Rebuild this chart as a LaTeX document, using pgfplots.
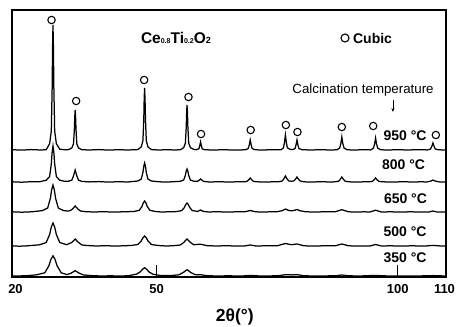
\documentclass[border=0pt]{standalone}
\usepackage{fontspec}
\setmainfont{Liberation Sans}
\usepackage{pgfplots}
\pgfplotsset{compat=1.18}
\usetikzlibrary{arrows.meta}
\begin{document}
\begin{tikzpicture}
\useasboundingbox (-12pt,-50pt) rectangle (447pt,277pt);
\begin{axis}[
  at={(0,0)}, anchor=south west,
  scale only axis, width=434pt, height=267pt,
  xmin=20, xmax=110, ymin=0, ymax=267,
  clip=false,
  axis line style={line width=1.5pt},
  xtick={20,50,100,110}, xticklabels={\hspace{7pt}20,50,100,\hspace{-3pt}110},
  xtick pos=lower, tick align=inside, major tick length=12pt,
  tick style={line width=1pt, black},
  ytick=\empty,
  xticklabel style={font=\bfseries\fontsize{13}{13}\selectfont, yshift=-4pt},
  every axis plot/.append style={line width=1.25pt, black},
]
% 950 C
\addplot[mark=none] coordinates {(20,127.3) (22,126.9) (24,127.4) (26,127.0) (27.10,127.3) (27.80,133.3) (28.15,145.8) (28.33,189.5) (28.41,229.5) (28.50,252) (28.59,229.5) (28.68,189.5) (28.85,145.8) (29.20,133.3) (29.90,127.8) (31.00,127.2) (31.70,127.4) (32.40,129) (32.75,133) (32.93,147) (33.01,159.8) (33.10,167) (33.19,159.8) (33.28,147) (33.45,133) (33.80,129) (34.50,127.3) (36,127.0) (38,127.4) (40,126.9) (42,127.3) (44,127.0) (46.10,127.4) (46.80,130.1) (47.15,136.3) (47.33,158) (47.41,177.8) (47.50,189) (47.59,177.8) (47.68,158) (47.85,136.3) (48.20,130.1) (48.90,127.4) (50.5,127.0) (52,127.3) (54,127.0) (55.00,127.4) (55.60,129.3) (55.95,133.8) (56.13,149.5) (56.21,163.9) (56.30,172) (56.39,163.9) (56.48,149.5) (56.65,133.8) (57.00,129.3) (57.7,127.6) (58.20,127.3) (58.75,128.2) (58.93,131) (59.10,135) (59.28,131) (59.45,128.2) (60.00,127.2) (62,127.0) (64,127.3) (66,126.9) (68.40,127.2) (69.00,128.5) (69.20,132) (69.40,137) (69.60,132) (69.80,128.5) (70.40,127.2) (72,127.0) (74,127.3) (75.80,127.2) (76.30,129.2) (76.50,134.5) (76.70,142) (76.90,134.5) (77.10,129.2) (77.70,127.6) (78.30,127.6) (78.70,128.5) (78.90,132) (79.10,137) (79.30,132) (79.50,128.5) (80.10,127.3) (82,127.0) (84,127.3) (86,127.0) (87.40,127.2) (87.95,129) (88.20,133.5) (88.40,140) (88.60,133.5) (88.85,129) (89.50,127.2) (91,127.0) (93,127.3) (94.40,127.1) (94.95,128.8) (95.20,133) (95.40,139) (95.60,133) (95.85,128.8) (96.50,127.2) (98,127.0) (100,127.3) (102,127.0) (104,127.3) (106.20,127.1) (106.80,128) (107.05,130.5) (107.30,134) (107.55,130.5) (107.80,128) (108.40,127.2) (110,127.0)};
% 800 C
\addplot[mark=none] coordinates {(20,95.2) (22,94.8) (24,95.3) (25.70,95.2) (27.10,96.8) (27.80,100.4) (28.15,113) (28.32,124.5) (28.50,131) (28.68,124.5) (28.85,113) (29.20,100.4) (29.90,96.8) (30.8,95.8) (31.70,95.8) (32.40,96.8) (32.75,101) (33.10,107) (33.45,101) (33.80,96.8) (34.50,95.6) (36,95.1) (38,95.4) (40,94.9) (42,95.3) (44,95.0) (46.10,96) (46.80,97.9) (47.15,104.5) (47.32,110.6) (47.50,114) (47.68,110.6) (47.85,104.5) (48.20,97.9) (48.90,96) (50.5,95.2) (52,94.9) (53.5,95.3) (54.90,95.7) (55.60,97) (55.95,101.5) (56.12,105.7) (56.30,108) (56.48,105.7) (56.65,101.5) (57.00,97) (57.70,95.8) (58.40,95.6) (58.75,96.5) (59.10,98) (59.45,96.5) (59.80,95.5) (61,95.0) (63,95.3) (65,94.9) (66.5,95.2) (68.30,95.2) (68.70,95.6) (69.05,97) (69.40,99) (69.75,97) (70.10,95.6) (70.80,95.2) (72.5,94.9) (74,95.2) (75.30,95.3) (76.00,95.9) (76.35,98) (76.70,101) (77.05,98) (77.40,96) (78.00,95.8) (78.40,96) (78.75,97.5) (79.10,100) (79.45,97.5) (79.80,96) (80.50,95.2) (82,94.9) (84,95.3) (86,95.0) (87.00,95.2) (87.70,95.8) (88.05,97.5) (88.40,100) (88.75,97.5) (89.10,95.8) (89.80,95.2) (91.5,94.9) (93,95.2) (94.00,95.2) (94.70,95.6) (95.05,97) (95.40,99) (95.75,97) (96.10,95.6) (96.80,95.2) (99,94.9) (101,95.3) (103,95.0) (105,95.2) (106.0,95.0) (106.9,96) (107.3,97) (107.7,96) (108.6,95.1) (110,95.0)};
% 650 C
\addplot[mark=none] coordinates {(20,65.2) (22,64.8) (24.10,65.2) (26.30,66.4) (27.40,69) (27.95,78.5) (28.22,87.1) (28.50,92) (28.78,87.1) (29.05,78.5) (29.60,69) (30.70,66.4) (31.50,66) (32.00,66.2) (32.55,68) (33.10,71) (33.65,68) (34.20,66) (35.3,65.3) (37,65.0) (39,65.3) (41,64.9) (43,65.2) (45.30,65.5) (46.40,66.7) (46.95,70.5) (47.22,74) (47.50,76) (47.78,74) (48.05,70.5) (48.60,66.7) (49.70,65.5) (51,65.0) (52.5,65.2) (54.10,65.4) (55.20,66.4) (55.75,69.5) (56.02,72.4) (56.30,74) (56.58,72.4) (56.85,69.5) (57.40,66.4) (58.50,65.6) (59.10,67) (59.70,65.6) (60.8,65.0) (62.5,65.3) (64.5,64.9) (66.5,65.2) (68.3,65.2) (69.4,66.5) (70.5,65.2) (72,64.9) (73.5,65.2) (75.0,65.3) (76.0,66.3) (76.7,68) (77.4,66.5) (78.0,66.2) (78.5,66.6) (79.1,67.5) (79.7,66.3) (80.8,65.3) (82.5,64.9) (84.5,65.2) (87.0,65.2) (88.4,67.3) (89.8,65.2) (91.5,64.9) (93,65.2) (94.2,65.0) (95.4,66.8) (96.6,65.0) (98.5,65.2) (100.5,64.9) (102.5,65.2) (104.5,65.0) (106.5,65.0) (107.3,66) (108.1,65.0) (110,65.1)};
% 500 C
\addplot[mark=none] coordinates {(20,31.2) (21.5,30.8) (23.0,31.1) (25.70,32.2) (27.10,34.5) (27.80,42.5) (28.15,49.9) (28.50,54) (28.85,49.9) (29.20,42.5) (29.90,34.5) (31.30,32.3) (32.40,34.5) (33.10,38) (33.80,34.5) (34.50,32) (35.90,31.4) (37.5,31.0) (39.5,31.3) (41.5,30.9) (43,31.2) (44.7,31.5) (46.1,32.5) (46.8,36) (47.15,39.2) (47.5,41) (47.85,39.2) (48.2,36) (48.9,32.5) (50.3,31.5) (52,31.0) (53.5,31.3) (54.9,32) (55.6,34.5) (56.3,38) (57.0,34.5) (57.7,32.3) (59.1,32.8) (60.5,31.3) (62.5,31.0) (64.5,31.3) (66.5,30.9) (68.2,31.0) (69.4,32) (70.6,31.0) (72.5,31.2) (75.0,31.2) (76.7,33.5) (77.9,32.3) (79.1,33) (80.6,31.2) (82.5,30.9) (84.5,31.2) (87,31.2) (88.4,33) (89.8,31.2) (92,30.9) (94.2,31.0) (95.4,32.5) (96.6,31.0) (98.5,31.2) (100.5,30.9) (103,31.2) (105.5,30.9) (107.3,31.6) (109,31.0) (110,31.1)};
% 350 C
\addplot[mark=none] coordinates {(20,1.0) (23.0,1.2) (25.1,2.2) (26.8,4.2) (27.65,11.2) (28.07,17.6) (28.5,21.2) (28.93,17.6) (29.35,11.2) (30.2,4.2) (31.4,2.4) (32.25,3.8) (33.1,6.3) (33.95,3.8) (34.8,2.1) (36.5,1.4) (38.5,1.0) (40.5,1.2) (42.5,0.9) (44.1,1.3) (45.8,2.8) (46.65,5.3) (47.07,7.8) (47.5,9.3) (47.93,7.8) (48.35,5.3) (49.2,2.8) (50.9,1.4) (52.9,1.4) (54.6,2.2) (55.45,4.3) (56.3,7.3) (57.15,4.3) (58.0,2.3) (59.1,2.3) (60.5,1.3) (62.5,1.0) (65,1.2) (67.5,0.9) (69.4,1.6) (71.5,1.0) (73.5,1.1) (75.0,1.2) (76.7,2.3) (78,2.1) (79.1,2.4) (80.6,1.2) (83,1.0) (85,1.1) (87,1.2) (88.4,2.0) (89.8,1.2) (92,1.0) (95.4,1.6) (98,1.0) (101,1.1) (104,1.0) (107.3,1.4) (110,1.0)};
% cubic markers
\addplot[only marks, mark=o, mark size=3.7pt, mark options={line width=1.1pt, fill=white}] coordinates {(28.2,257) (33.3,176) (47.4,197) (56.6,180) (59.2,143) (69.5,147) (76.8,152) (79.2,145) (88.4,150) (94.9,151) (107.9,142)};
% texts
\node[font=\bfseries\fontsize{15.5}{15.5}\selectfont] at (axis cs:54.0,239) {Ce{\fontsize{7}{7}\selectfont 0.8}Ti{\fontsize{7}{7}\selectfont 0.2}O{\fontsize{9}{9}\selectfont 2}};
\node[circle, draw, line width=1.1pt, inner sep=0pt, minimum size=8pt] at (axis cs:89.06,239) {};
\node[anchor=west, inner sep=0pt, font=\bfseries\fontsize{14}{14}\selectfont] at (axis cs:90.7,239) {Cubic};
\node[anchor=base, inner sep=0pt, font=\fontsize{13.3}{14}\selectfont] at (axis cs:92.8,183) {Calcination temperature};
\draw[line width=0.8pt, -{Stealth[length=4pt,width=3pt]}] (axis cs:99,177) -- (axis cs:99,165);
\node[anchor=base, inner sep=0pt, font=\bfseries\fontsize{14}{14}\selectfont] at (axis cs:101.5,136) {950 °C};
\node[anchor=base, inner sep=0pt, font=\bfseries\fontsize{14}{14}\selectfont] at (axis cs:101.2,107) {800 °C};
\node[anchor=base, inner sep=0pt, font=\bfseries\fontsize{14}{14}\selectfont] at (axis cs:101.6,74) {650 °C};
\node[anchor=base, inner sep=0pt, font=\bfseries\fontsize{14}{14}\selectfont] at (axis cs:101.5,40) {500 °C};
\node[anchor=base, inner sep=0pt, font=\bfseries\fontsize{14}{14}\selectfont] at (axis cs:101.5,14) {350 °C};
\node[anchor=base, inner sep=0pt, font=\bfseries\fontsize{17.5}{18}\selectfont] at (axis cs:66.2,-44.7) {2θ(°)};
\end{axis}
\end{tikzpicture}
\end{document}
